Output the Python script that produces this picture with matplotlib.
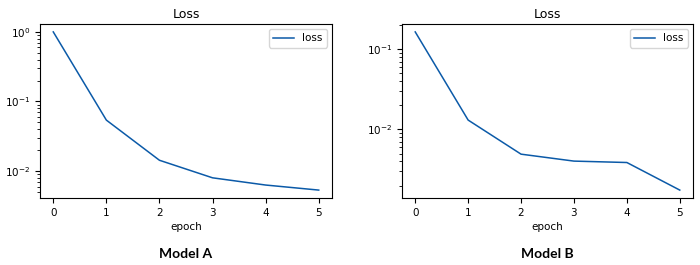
import matplotlib.pyplot as plt

epochs = [0, 1, 2, 3, 4, 5]
loss_a = [1.0, 0.054, 0.0143, 0.0080, 0.0063, 0.00533]
loss_b = [0.164, 0.0131, 0.00493, 0.00404, 0.00388, 0.00176]
models = ["Model A", "Model B"]

plt.rcParams['font.size'] = 7.5

fig = plt.figure(figsize=(7, 2.65), dpi=100)
ax_a = fig.add_axes([40/700, 1 - 198/265, 292/700, 174/265])
ax_b = fig.add_axes([402/700, 1 - 198/265, 291/700, 174/265])

for ax, loss, name in zip([ax_a, ax_b], [loss_a, loss_b], models):
    ax.plot(epochs, loss, color='#0b5aa8', lw=1.1, label='loss')
    ax.set_yscale('log')
    ax.set_title('Loss', fontsize=9, pad=4)
    ax.set_xlabel('epoch', labelpad=3)
    ax.set_xticks(epochs)
    ax.legend(loc='upper right', fontsize=7.5)
    # caption under each panel
    bb = ax.get_position()
    fig.text((bb.x0 + bb.x1) / 2, 1 - 254/265, name, ha='center', va='center',
             fontsize=10, fontweight='bold', family='Lato')

fig.savefig('out.png', dpi=100)
